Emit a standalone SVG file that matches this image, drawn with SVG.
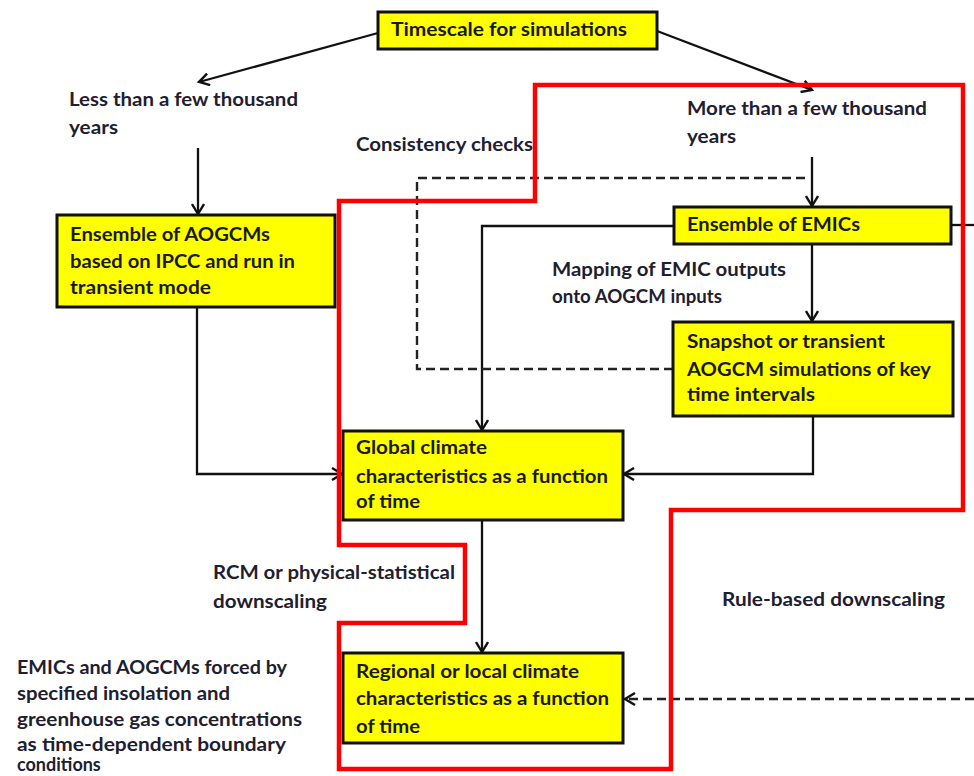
<svg xmlns="http://www.w3.org/2000/svg" width="974" height="776" viewBox="0 0 974 776">
<defs>
<marker id="arr" markerUnits="userSpaceOnUse" markerWidth="14" markerHeight="14" refX="11" refY="7" orient="auto">
<path d="M1,1 L11,7 L1,13" fill="none" stroke="#111" stroke-width="2.4"/>
</marker>
<style>
.box{fill:#ffff00;stroke:#111;stroke-width:3}
.t{font-family:Lato,"Open Sans","Liberation Sans",sans-serif;font-weight:bold;font-size:18px;fill:#1a1a1a}
.lbl{font-family:Lato,"Open Sans","Liberation Sans",sans-serif;font-weight:bold;font-size:18px;fill:#1e2030}
.c{fill:none;stroke:#111;stroke-width:2.3}
.d{fill:none;stroke:#222;stroke-width:2.4;stroke-dasharray:9 5}
.red{fill:none;stroke:#ff0000;stroke-width:4.5}
</style>
</defs>
<rect width="974" height="776" fill="#fff"/>
<g id="connectors">
<line class="c" x1="378" y1="33" x2="199" y2="82" marker-end="url(#arr)"/>
<line class="c" x1="657" y1="31" x2="812" y2="90" marker-end="url(#arr)"/>
<line class="c" x1="198" y1="148" x2="198" y2="214" marker-end="url(#arr)"/>
<polyline class="c" points="197,307 197,474 342,474" marker-end="url(#arr)"/>
<line class="c" x1="812" y1="157" x2="812" y2="206" marker-end="url(#arr)"/>
<polyline class="c" points="674,226 482,226 482,430" marker-end="url(#arr)"/>
<line class="c" x1="812" y1="245" x2="812" y2="321" marker-end="url(#arr)"/>
<polyline class="c" points="813,416 813,474 624,474" marker-end="url(#arr)"/>
<line class="c" x1="482" y1="520" x2="482" y2="652" marker-end="url(#arr)"/>
<line class="c" x1="951" y1="225" x2="974" y2="225"/>
<polyline class="d" points="673,369 417,369 417,178 810,178"/>
<line class="d" x1="974" y1="699" x2="625" y2="699" marker-end="url(#arr)"/>
</g>
<g id="timescale">
<rect class="box" x="378" y="12" width="279" height="37"/>
<text class="t" x="391" y="36" textLength="236" lengthAdjust="spacingAndGlyphs">Timescale for simulations</text>
</g>
<g id="less">
<text class="lbl" x="69" y="106" textLength="229" lengthAdjust="spacingAndGlyphs">Less than a few thousand</text>
<text class="lbl" x="69" y="134" textLength="49" lengthAdjust="spacingAndGlyphs">years</text>
</g>
<g id="more">
<text class="lbl" x="687" y="115" textLength="240" lengthAdjust="spacingAndGlyphs">More than a few thousand</text>
<text class="lbl" x="687" y="143" textLength="49" lengthAdjust="spacingAndGlyphs">years</text>
</g>
<g id="consistency">
<text class="lbl" x="356" y="151" textLength="177" lengthAdjust="spacingAndGlyphs">Consistency checks</text>
</g>
<g id="aogcms">
<rect class="box" x="57" y="215" width="278" height="92"/>
<text class="t" x="70" y="241" textLength="200" lengthAdjust="spacingAndGlyphs">Ensemble of AOGCMs</text>
<text class="t" x="70" y="268" textLength="225" lengthAdjust="spacingAndGlyphs">based on IPCC and run in</text>
<text class="t" x="70" y="294" textLength="141" lengthAdjust="spacingAndGlyphs">transient mode</text>
</g>
<g id="emics">
<rect class="box" x="674" y="207" width="277" height="37"/>
<text class="t" x="687" y="231" textLength="173" lengthAdjust="spacingAndGlyphs">Ensemble of EMICs</text>
</g>
<g id="mapping">
<text class="lbl" x="552" y="276" textLength="234" lengthAdjust="spacingAndGlyphs">Mapping of EMIC outputs</text>
<text class="lbl" x="552" y="303" textLength="170" lengthAdjust="spacingAndGlyphs">onto AOGCM inputs</text>
</g>
<g id="snapshot">
<rect class="box" x="673" y="322" width="280" height="94"/>
<text class="t" x="687" y="348" textLength="198" lengthAdjust="spacingAndGlyphs">Snapshot or transient</text>
<text class="t" x="687" y="376" textLength="244" lengthAdjust="spacingAndGlyphs">AOGCM simulations of key</text>
<text class="t" x="687" y="401" textLength="128" lengthAdjust="spacingAndGlyphs">time intervals</text>
</g>
<g id="global">
<rect class="box" x="343" y="431" width="280" height="89"/>
<text class="t" x="356" y="454" textLength="131" lengthAdjust="spacingAndGlyphs">Global climate</text>
<text class="t" x="356" y="483" textLength="252" lengthAdjust="spacingAndGlyphs">characteristics as a function</text>
<text class="t" x="356" y="508" textLength="64" lengthAdjust="spacingAndGlyphs">of time</text>
</g>
<g id="rcm">
<text class="lbl" x="213" y="579" textLength="242" lengthAdjust="spacingAndGlyphs">RCM or physical-statistical</text>
<text class="lbl" x="213" y="608" textLength="114" lengthAdjust="spacingAndGlyphs">downscaling</text>
</g>
<g id="rule">
<text class="lbl" x="722" y="606" textLength="223" lengthAdjust="spacingAndGlyphs">Rule-based downscaling</text>
</g>
<g id="regional">
<rect class="box" x="343" y="653" width="280" height="90"/>
<text class="t" x="356" y="678" textLength="223" lengthAdjust="spacingAndGlyphs">Regional or local climate</text>
<text class="t" x="356" y="705" textLength="253" lengthAdjust="spacingAndGlyphs">characteristics as a function</text>
<text class="t" x="356" y="733" textLength="64" lengthAdjust="spacingAndGlyphs">of time</text>
</g>
<g id="forcing">
<text class="lbl" x="17" y="674" textLength="270" lengthAdjust="spacingAndGlyphs">EMICs and AOGCMs forced by</text>
<text class="lbl" x="17" y="700" textLength="213" lengthAdjust="spacingAndGlyphs">specified insolation and</text>
<text class="lbl" x="17" y="726" textLength="285" lengthAdjust="spacingAndGlyphs">greenhouse gas concentrations</text>
<text class="lbl" x="17" y="751" textLength="269" lengthAdjust="spacingAndGlyphs">as time-dependent boundary</text>
<text class="lbl" x="17" y="771">conditions</text>
</g>
<g id="highlight">
<path class="red" d="M535,85 L963,85 L963,510 L671,510 L671,769 L339,769 L339,623 L465,623 L465,545 L339,545 L339,201 L535,201 Z"/>
</g>
</svg>
